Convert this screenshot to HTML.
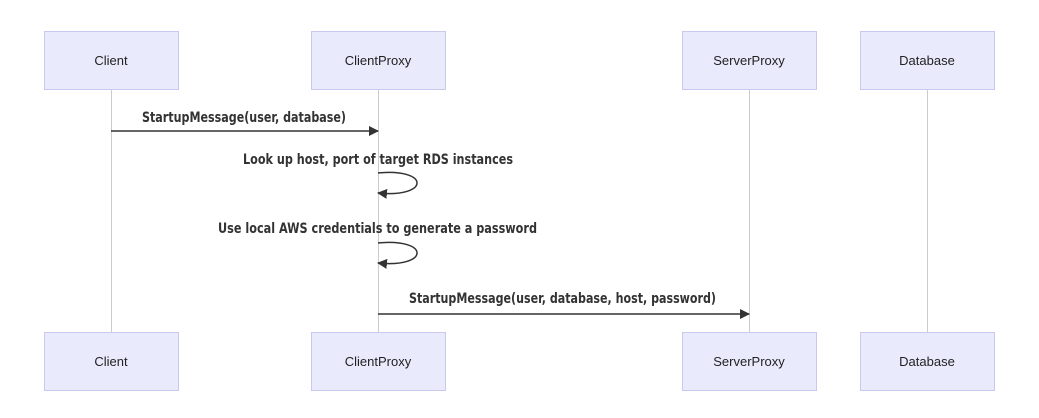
<!DOCTYPE html>
<html><head><style>
body{margin:0;background:#fff;}
svg text{font-family:"DejaVu Sans Condensed","DejaVu Sans","Liberation Sans",sans-serif;}
</style></head><body>
<svg width="1039" height="413" xmlns="http://www.w3.org/2000/svg">
<defs><marker id="a" markerWidth="10" markerHeight="10" refX="9" refY="5" orient="auto" markerUnits="userSpaceOnUse"><path d="M0,0 L10,5 L0,10 z" fill="#333"/></marker></defs>
<g stroke="#ccc" stroke-width="1">
<line x1="111.5" y1="89" x2="111.5" y2="332"/>
<line x1="378.5" y1="89" x2="378.5" y2="332"/>
<line x1="749.5" y1="89" x2="749.5" y2="332"/>
<line x1="927.5" y1="89" x2="927.5" y2="332"/>
</g>
<g fill="#eaeafd" stroke="#c9c9f0" stroke-width="1">
<rect x="44.5" y="31.5" width="134" height="58"/><rect x="311.5" y="31.5" width="134" height="58"/>
<rect x="682.5" y="31.5" width="134" height="58"/><rect x="860.5" y="31.5" width="134" height="58"/>
<rect x="44.5" y="332.5" width="134" height="58"/><rect x="311.5" y="332.5" width="134" height="58"/>
<rect x="682.5" y="332.5" width="134" height="58"/><rect x="860.5" y="332.5" width="134" height="58"/>
</g>
<g font-size="13" fill="#222" text-anchor="middle">
<text x="111" y="65" style="font-family:'Liberation Sans',sans-serif">Client</text>
<text x="378" y="65" style="font-family:'Liberation Sans',sans-serif">ClientProxy</text>
<text x="749" y="65" style="font-family:'Liberation Sans',sans-serif">ServerProxy</text>
<text x="927" y="65" style="font-family:'Liberation Sans',sans-serif">Database</text>
<text x="111" y="366" style="font-family:'Liberation Sans',sans-serif">Client</text>
<text x="378" y="366" style="font-family:'Liberation Sans',sans-serif">ClientProxy</text>
<text x="749" y="366" style="font-family:'Liberation Sans',sans-serif">ServerProxy</text>
<text x="927" y="366" style="font-family:'Liberation Sans',sans-serif">Database</text>
</g>
<g font-size="14" font-weight="bold" fill="#333">
<text x="142" y="122" textLength="204" lengthAdjust="spacingAndGlyphs">StartupMessage(user, database)</text>
<text x="243" y="164" textLength="270" lengthAdjust="spacingAndGlyphs">Look up host, port of target RDS instances</text>
<text x="218" y="233" textLength="319" lengthAdjust="spacingAndGlyphs">Use local AWS credentials to generate a password</text>
<text x="409" y="303" textLength="307" lengthAdjust="spacingAndGlyphs">StartupMessage(user, database, host, password)</text>
</g>
<g stroke="#333" stroke-width="1.5" fill="none">
<line x1="111" y1="131" x2="378" y2="131" marker-end="url(#a)"/>
<path d="M378,173 C430,168 430,198 378,193" marker-end="url(#a)"/>
<path d="M378,243 C430,238 430,268 378,263" marker-end="url(#a)"/>
<line x1="378" y1="314" x2="749" y2="314" marker-end="url(#a)"/>
</g>
</svg>
</body></html>
